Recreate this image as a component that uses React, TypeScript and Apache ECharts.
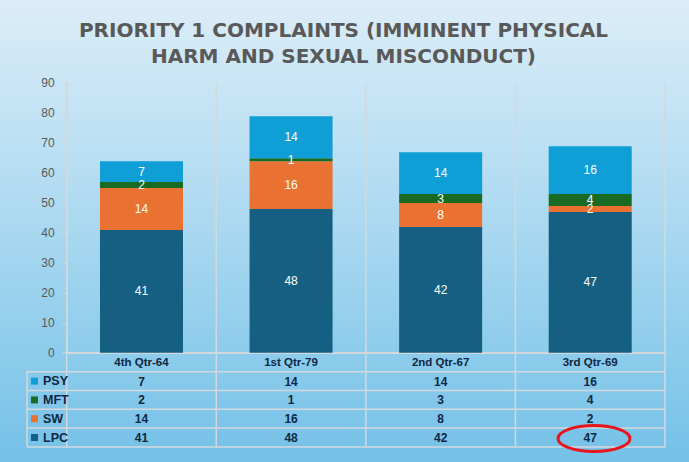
import React, { useEffect, useRef } from "react";
import * as echarts from "echarts";

const categories = ["4th Qtr-64", "1st Qtr-79", "2nd Qtr-67", "3rd Qtr-69"];
const LPC = [41, 48, 42, 47];
const SW = [14, 16, 8, 2];
const MFT = [2, 1, 3, 4];
const PSY = [7, 14, 14, 16];
const yTicks = { min: 0, max: 90, interval: 10 };

const seriesDefs = [
  { name: "LPC", data: LPC, color: "#156082" },
  { name: "SW", data: SW, color: "#E97132" },
  { name: "MFT", data: MFT, color: "#196B24" },
  { name: "PSY", data: PSY, color: "#0F9ED5" },
];
const tableOrder = ["PSY", "MFT", "SW", "LPC"];

export default function App() {
  const ref = useRef<HTMLDivElement>(null);
  useEffect(() => {
    if (!ref.current) return;
    const chart = echarts.init(ref.current, undefined, { renderer: "svg" });
    const W = 689;
    const gridLeft = 66.7;
    const gridRight = 665;
    const gridTop = 83.3;
    const axisY = 352.7;
    const rowH = 18.8;
    const tableTop = 371.7;
    const tableBottom = tableTop + rowH * 4;
    const tableLeft = 27;
    const lineColor = "#d3d8dc";
    const catW = (gridRight - gridLeft) / categories.length;

    const byName: Record<string, number[]> = { LPC, SW, MFT, PSY };

    const graphics: any[] = [];
    for (let i = 0; i <= 4; i++) {
      const y = tableTop + rowH * i;
      graphics.push({
        type: "line",
        shape: { x1: tableLeft, y1: y, x2: gridRight, y2: y },
        style: { stroke: lineColor, lineWidth: 1.5 },
      });
    }
    graphics.push({
      type: "line",
      shape: { x1: tableLeft, y1: tableTop, x2: tableLeft, y2: tableBottom },
      style: { stroke: lineColor, lineWidth: 1.5 },
    });
    for (let i = 0; i <= categories.length; i++) {
      const x = gridLeft + catW * i;
      graphics.push({
        type: "line",
        shape: { x1: x, y1: gridTop, x2: x, y2: tableBottom },
        style: { stroke: lineColor, lineWidth: 1.5 },
      });
    }
    graphics.push({
      type: "ellipse",
      shape: { cx: 594, cy: 438.5, rx: 36, ry: 13 },
      style: { fill: "none", stroke: "#E8151B", lineWidth: 3 },
    });

    chart.setOption({
      animation: false,
      backgroundColor: new echarts.graphic.LinearGradient(0, 0, 0, 1, [
        { offset: 0, color: "#dcedf8" },
        { offset: 0.5, color: "#a9d8f0" },
        { offset: 1, color: "#74c1e8" },
      ]),
      title: {
        text: "PRIORITY 1 COMPLAINTS (IMMINENT PHYSICAL\nHARM AND SEXUAL MISCONDUCT)",
        left: 338.5,
        top: 12,
        textAlign: "center",
        textStyle: {
          fontFamily: "DejaVu Sans",
          fontWeight: "bold",
          fontSize: 20,
          lineHeight: 26,
          color: "#595959",
        },
      },
      legend: {
        data: tableOrder,
        orient: "vertical",
        left: 31,
        top: tableTop,
        padding: 0,
        itemGap: 0,
        itemWidth: 7,
        itemHeight: 7,
        icon: "rect",
        selectedMode: false,
        textStyle: {
          fontFamily: "Liberation Sans",
          fontWeight: "bold",
          fontSize: 12.5,
          lineHeight: rowH,
          color: "#0E2841",
        },
      },
      grid: {
        left: gridLeft,
        right: W - gridRight,
        top: gridTop,
        bottom: 462 - axisY,
      },
      xAxis: {
        type: "category",
        data: categories,
        axisLine: { lineStyle: { color: lineColor, width: 2 } },
        axisTick: { show: false },
        splitLine: { show: false },
        axisLabel: {
          interval: 0,
          margin: 0,
          formatter: (v: string, idx: number) => {
            const lines = [`{c|${v}}`];
            tableOrder.forEach((n) => lines.push(`{v|${byName[n][idx]}}`));
            return lines.join("\n");
          },
          rich: {
            c: {
              fontFamily: "Liberation Sans",
              fontWeight: "bold",
              fontSize: 11.5,
              lineHeight: 19.5,
              color: "#0E2841",
            },
            v: {
              fontFamily: "Liberation Sans",
              fontWeight: "bold",
              fontSize: 12,
              lineHeight: rowH,
              color: "#0E2841",
            },
          },
        },
      },
      yAxis: {
        type: "value",
        min: yTicks.min,
        max: yTicks.max,
        interval: yTicks.interval,
        axisLine: { show: true, lineStyle: { color: lineColor, width: 1.5 } },
        axisTick: { show: true, length: 4, lineStyle: { color: lineColor } },
        splitLine: { show: false },
        axisLabel: {
          margin: 12,
          fontFamily: "Liberation Sans",
          fontSize: 12,
          color: "#595959",
        },
      },
      graphic: graphics,
      series: seriesDefs.map((s) => ({
        name: s.name,
        type: "bar",
        stack: "total",
        barWidth: "55.5%",
        data: s.data,
        itemStyle: { color: s.color },
        label: {
          show: true,
          position: "inside",
          color: "#ffffff",
          fontFamily: "Liberation Sans",
          fontSize: 12,
        },
      })),
    });
    return () => chart.dispose();
  }, []);
  return (
    <div
      ref={ref}
      style={{ position: "fixed", left: 0, top: 0, width: 689, height: 462 }}
    />
  );
}
